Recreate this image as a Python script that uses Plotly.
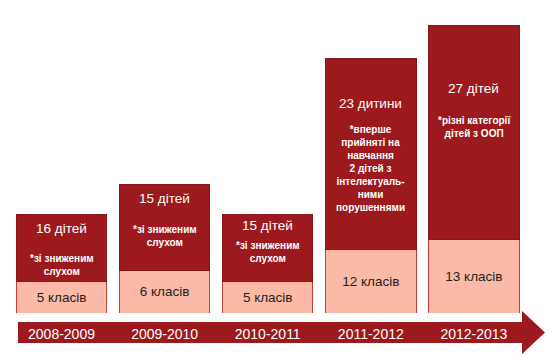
import plotly.graph_objects as go

# ---- data ----
years = ["2008-2009", "2009-2010", "2010-2011", "2011-2012", "2012-2013"]
children = ["16 дітей", "15 дітей", "15 дітей", "23 дитини", "27 дітей"]
notes = [
    "*зі зниженим<br>слухом",
    "*зі зниженим<br>слухом",
    "*зі зниженим<br>слухом",
    "*вперше<br>прийняті на<br>навчання<br>2 дітей з<br>інтелектуаль-<br>ними<br>порушеннями",
    "*різні категорії<br>дітей з ООП",
]
classes = ["5 класів", "6 класів", "5 класів", "12 класів", "13 класів"]
# block heights as drawn (diagram units)
lower_block = [32, 43, 32, 64, 74]
upper_block = [67, 86, 67, 191, 214]

# ---- label placement (layout, not data) ----
title_y = [85, 115, 88, 210, 225]
note_y = [48, 77, 61, 145, 186]

DARK = "#9C1A1D"
LIGHT = "#FBB9A7"
FONT = "Liberation Sans, Arial, sans-serif"

W, H = 552, 358
B = 45  # bottom margin (arrow band lives here)
PLOT_H = H - B

fig = go.Figure()
fig.add_trace(go.Bar(
    x=years, y=lower_block, marker=dict(color=LIGHT, line=dict(color="#C0403A", width=1)),
    text=classes, textposition="inside", insidetextanchor="middle",
    textfont=dict(family=FONT, size=13.5, color="#1E1E1E"),
    hoverinfo="skip", showlegend=False,
))
fig.add_trace(go.Bar(
    x=years, y=upper_block, marker=dict(color=DARK, line=dict(color="#8A1518", width=1)),
    hoverinfo="skip", showlegend=False,
))

for i, yr in enumerate(years):
    fig.add_annotation(x=yr, y=title_y[i], text=children[i], showarrow=False,
                       font=dict(family=FONT, size=13.5, color="white"), yanchor="middle")
    fig.add_annotation(x=yr, y=note_y[i], text="<b>" + notes[i] + "</b>", showarrow=False,
                       font=dict(family=FONT, size=10, color="white"), yanchor="middle")


def px(xp):
    return xp / W


def py(yp):
    return (PLOT_H - yp) / PLOT_H


arrow = [(18, 322), (522, 322), (522, 311), (545, 332.5), (522, 354), (522, 343), (18, 343)]
path = "M " + " L ".join(f"{px(a):.5f},{py(b):.5f}" for a, b in arrow) + " Z"
fig.add_shape(type="path", path=path, xref="paper", yref="paper",
              fillcolor=DARK, line=dict(width=0), layer="below")

fig.update_layout(
    width=W, height=H,
    margin=dict(l=0, r=0, t=0, b=B),
    barmode="stack", bargap=0.122,
    paper_bgcolor="white", plot_bgcolor="rgba(0,0,0,0)",
    xaxis=dict(range=[-0.5965, 4.7575], showgrid=False, zeroline=False, showline=False,
               ticks="", ticklabelstandoff=11,
               tickfont=dict(family=FONT, size=14, color="white"), fixedrange=True),
    yaxis=dict(range=[0, PLOT_H], visible=False, fixedrange=True),
    font=dict(family=FONT),
)

fig.write_html(
    "out.html",
    config={"displayModeBar": False},
    post_script="document.body.style.margin='0';document.body.style.overflow='hidden';",
)
